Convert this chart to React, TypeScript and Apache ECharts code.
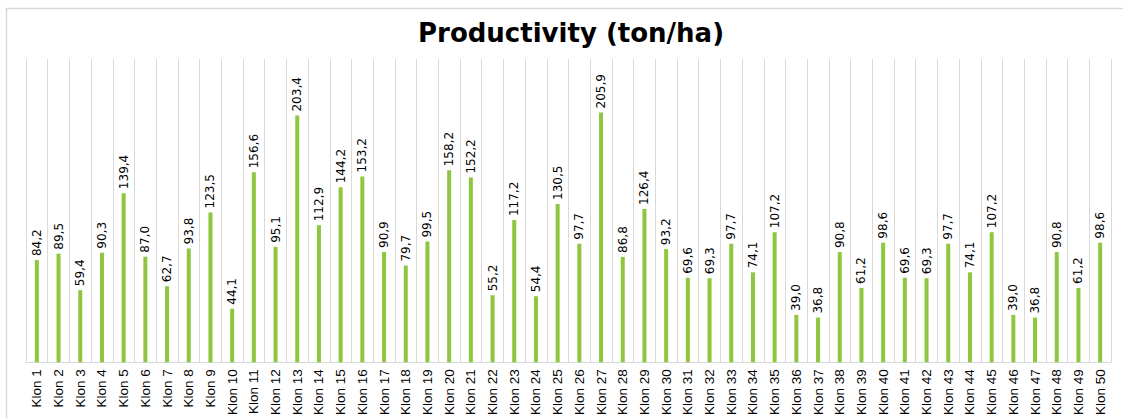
import React, { useEffect, useRef } from "react";
import * as echarts from "echarts";

const categories: string[] = Array.from({ length: 50 }, (_, i) => `Klon ${i + 1}`);
const productivity: number[] = [
  84.2, 89.5, 59.4, 90.3, 139.4, 87.0, 62.7, 93.8, 123.5, 44.1,
  156.6, 95.1, 203.4, 112.9, 144.2, 153.2, 90.9, 79.7, 99.5, 158.2,
  152.2, 55.2, 117.2, 54.4, 130.5, 97.7, 205.9, 86.8, 126.4, 93.2,
  69.6, 69.3, 97.7, 74.1, 107.2, 39.0, 36.8, 90.8, 61.2, 98.6,
  69.6, 69.3, 97.7, 74.1, 107.2, 39.0, 36.8, 90.8, 61.2, 98.6,
];
const titleText = "Productivity (ton/ha)";

export default function App() {
  const ref = useRef<HTMLDivElement>(null);
  useEffect(() => {
    if (!ref.current) return;
    const chart = echarts.init(ref.current, null, { renderer: "svg" });
    chart.setOption({
      animation: false,
      backgroundColor: "#ffffff",
      title: {
        text: titleText,
        left: 413,
        top: 15,
        textStyle: { fontFamily: "DejaVu Sans", fontWeight: "bold", fontSize: 26, color: "#000" },
      },
      graphic: [
        {
          type: "rect",
          shape: { x: 6.5, y: 8.5, width: 1130, height: 420 },
          style: { fill: "none", stroke: "#d9d9d9", lineWidth: 1.5 },
          silent: true,
        },
      ],
      grid: { left: 26, right: 12, top: 59, bottom: 55, containLabel: false },
      xAxis: {
        type: "category",
        data: categories,
        boundaryGap: true,
        axisLine: { show: true, lineStyle: { color: "#d9d9d9", width: 1 } },
        axisTick: { show: false },
        splitLine: { show: true, lineStyle: { color: "#d9d9d9", width: 1 } },
        axisLabel: {
          rotate: 90,
          interval: 0,
          margin: 7,
          fontFamily: "Liberation Sans, Arial",
          fontSize: 13.5,
          color: "#000",
        },
      },
      yAxis: {
        type: "value",
        min: 0,
        max: 250,
        show: false,
        splitLine: { show: false },
      },
      series: [
        {
          type: "bar",
          data: productivity,
          barWidth: 4,
          itemStyle: { color: "#8DC63F" },
          label: {
            show: true,
            position: "top",
            rotate: 90,
            align: "left",
            verticalAlign: "middle",
            distance: 4,
            fontFamily: "DejaVu Sans",
            fontSize: 12,
            color: "#000",
            formatter: (p: any) => Number(p.value).toFixed(1).replace(".", ","),
          },
        },
      ],
    });
    return () => chart.dispose();
  }, []);
  return (
    <div
      ref={ref}
      style={{ position: "fixed", left: 0, top: 0, width: 1123, height: 418 }}
    />
  );
}
